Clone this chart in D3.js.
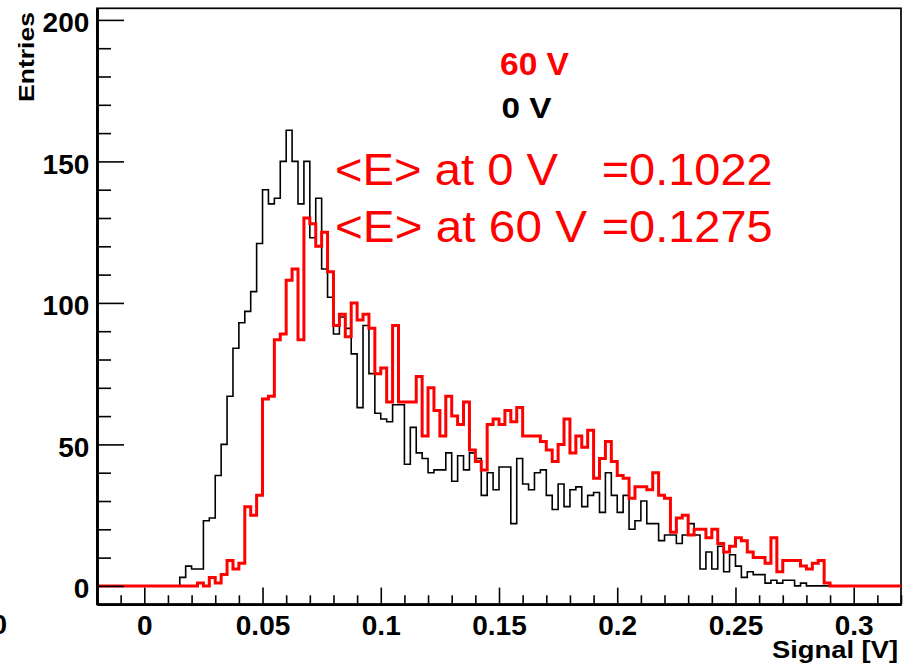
<!DOCTYPE html>
<html>
<head>
<meta charset="utf-8">
<script src="https://cdn.jsdelivr.net/npm/d3@7"></script>
<style>
  body { margin: 0; background: #fff; }
  svg { display: block; }
  text { font-family: "Liberation Sans", Arial, Helvetica, sans-serif; }
</style>
</head>
<body>
<div id="chart"></div>
<script>
// histogram binning (136 bins of 0.0025 V from -0.02 to 0.32)
const binLow = -0.02;
const binWidth = 0.0025;
const nBins = 136;

// 0 V entries, starting at bin 14 (0.015 V)
const firstBin0V = 14;
const counts0V = [
  3, 7, 6, 6, 23, 24, 39, 50, 67, 84,
  93, 97, 104, 121, 140, 135, 137, 150, 161, 150,
  135, 150, 123, 137, 112, 102, 89, 95, 91, 82,
  63, 92, 75, 61, 59, 58, 64, 64, 43, 56,
  47, 45, 40, 41, 41, 47, 37, 46, 41, 47,
  45, 32, 40, 34, 42, 42, 22, 45, 36, 34,
  40, 41, 32, 27, 36, 28, 34, 35, 28, 32,
  33, 26, 40, 32, 26, 32, 20, 23, 30, 22,
  22, 16, 18, 18, 15, 18, 22, 18, 6, 12,
  6, 14, 5, 11, 7, 3, 5, 4, 4, 1,
  2, 1, 2, 2, 0, 1
];

// 60 V entries, starting at bin 17 (0.0225 V)
const firstBin60V = 17;
const counts60V = [
  1, 0, 3, 1, 4, 9, 6, 8, 28, 25,
  32, 66, 67, 87, 89, 108, 112, 87, 130, 128,
  120, 125, 111, 92, 96, 88, 100, 94, 96, 91,
  75, 77, 65, 92, 65, 65, 65, 74, 53, 70,
  62, 53, 67, 60, 57, 65, 48, 44, 41, 57,
  59, 57, 62, 58, 63, 53, 53, 53, 51, 48,
  44, 50, 59, 47, 53, 49, 55, 38, 45, 51,
  44, 39, 38, 31, 35, 35, 34, 40, 32, 31,
  19, 24, 25, 18, 20, 20, 17, 20, 15, 12,
  14, 17, 16, 12, 10, 10, 8, 17, 5, 9,
  9, 9, 7, 6, 8, 9, 1
];

const xMajorTicks = [0, 0.05, 0.1, 0.15, 0.2, 0.25, 0.3];
const xTickLabels = ["0", "0.05", "0.1", "0.15", "0.2", "0.25", "0.3"];
const yMajorTicks = [0, 50, 100, 150, 200];
const yTickLabels = ["0", "50", "100", "150", "200"];
const legendLabels = ["60 V", "0 V"];
const meanNames = ["<E> at 0 V", "<E> at 60 V"];
const meanValues = ["=0.1022", "=0.1275"];

const width = 913, height = 666;
const frame = { left: 97, right: 901, top: 8.3, bottom: 604.3 };

const svg = d3.select("#chart")
  .append("svg")
  .attr("width", width)
  .attr("height", height);

const x = d3.scaleLinear().domain([-0.02, 0.32]).range([frame.left, frame.right]);
const y = d3.scaleLinear().domain([-6.5, 204.1]).range([frame.bottom, frame.top]);

// frame
svg.append("rect")
  .attr("x", frame.left).attr("y", frame.top)
  .attr("width", frame.right - frame.left)
  .attr("height", frame.bottom - frame.top)
  .attr("fill", "none").attr("stroke", "#000").attr("stroke-width", 1.7);

// histograms as step outlines
function binsOf(counts, first) {
  return d3.range(nBins).map(k => ({
    lo: binLow + k * binWidth,
    n: counts[k - first] || 0
  }));
}

function stepPoints(bins) {
  const pts = bins.map(b => [b.lo, b.n]);
  pts.push([binLow + nBins * binWidth, bins[bins.length - 1].n]);
  return pts;
}

const step = d3.line()
  .x(d => x(d[0]))
  .y(d => y(d[1]))
  .curve(d3.curveStepAfter);

svg.append("path")
  .datum(stepPoints(binsOf(counts0V, firstBin0V)))
  .attr("d", step)
  .attr("fill", "none").attr("stroke", "#000").attr("stroke-width", 1.6);

svg.append("path")
  .datum(stepPoints(binsOf(counts60V, firstBin60V)))
  .attr("d", step)
  .attr("fill", "none").attr("stroke", "#ff0000").attr("stroke-width", 3);

// axes
const xMinor = d3.range(-0.02, 0.3201, 0.01).filter(v => Math.abs(Math.round(v * 20) - v * 20) > 1e-6);
const yMinor = d3.range(0, 201, 10).filter(v => v % 50 !== 0);

const xAxisG = svg.append("g").attr("transform", `translate(0,${frame.bottom})`);
xAxisG.append("g").call(d3.axisBottom(x).tickValues(xMinor).tickSize(-9).tickSizeOuter(0).tickFormat(""));
xAxisG.append("g").call(d3.axisBottom(x).tickValues(xMajorTicks).tickSize(-16.7).tickSizeOuter(0)
  .tickPadding(11).tickFormat((d, i) => xTickLabels[i]));

const yAxisG = svg.append("g").attr("transform", `translate(${frame.left},0)`);
yAxisG.append("g").call(d3.axisLeft(y).tickValues(yMinor).tickSize(-14).tickSizeOuter(0).tickFormat(""));
yAxisG.append("g").call(d3.axisLeft(y).tickValues(yMajorTicks).tickSize(-27).tickSizeOuter(0)
  .tickPadding(7.7).tickFormat((d, i) => yTickLabels[i]));

svg.selectAll(".domain").attr("stroke", "#000").attr("stroke-width", 2.6);
svg.selectAll(".tick line").attr("stroke", "#000").attr("stroke-width", 1.6);
svg.selectAll(".tick text")
  .attr("fill", "#000")
  .attr("font-family", "'Liberation Sans', Arial, sans-serif")
  .attr("font-weight", "bold")
  .attr("font-size", 28);
yAxisG.selectAll(".tick text").attr("dy", "0.43em");

// clipped label at the left edge
svg.append("text")
  .attr("x", 7).attr("y", 634)
  .attr("text-anchor", "end")
  .attr("font-weight", "bold").attr("font-size", 28)
  .text("0");

// axis titles
svg.append("text")
  .attr("transform", "translate(34,12) rotate(-90)")
  .attr("text-anchor", "end")
  .attr("font-weight", "bold").attr("font-size", 22)
  .attr("textLength", 90).attr("lengthAdjust", "spacingAndGlyphs")
  .text("Entries");

svg.append("text")
  .attr("x", 898).attr("y", 658)
  .attr("text-anchor", "end")
  .attr("font-weight", "bold").attr("font-size", 23)
  .attr("textLength", 126).attr("lengthAdjust", "spacingAndGlyphs")
  .text("Signal [V]");

// legend
svg.append("text")
  .attr("x", 500).attr("y", 75)
  .attr("fill", "#ff0000")
  .attr("font-weight", "bold").attr("font-size", 31)
  .attr("textLength", 69).attr("lengthAdjust", "spacingAndGlyphs")
  .text(legendLabels[0]);

svg.append("text")
  .attr("x", 501.5).attr("y", 118.3)
  .attr("fill", "#000")
  .attr("font-weight", "bold").attr("font-size", 30)
  .attr("textLength", 50).attr("lengthAdjust", "spacingAndGlyphs")
  .text(legendLabels[1]);

// mean values
const nameWidths = [223, 252];
[185, 241.7].forEach((base, i) => {
  svg.append("text")
    .attr("x", 335).attr("y", base)
    .attr("fill", "#ff0000").attr("font-size", 44)
    .attr("textLength", nameWidths[i]).attr("lengthAdjust", "spacingAndGlyphs")
    .text(meanNames[i]);
  svg.append("text")
    .attr("x", 601.7).attr("y", base)
    .attr("fill", "#ff0000").attr("font-size", 44)
    .attr("textLength", 171).attr("lengthAdjust", "spacingAndGlyphs")
    .text(meanValues[i]);
});
</script>
</body>
</html>
